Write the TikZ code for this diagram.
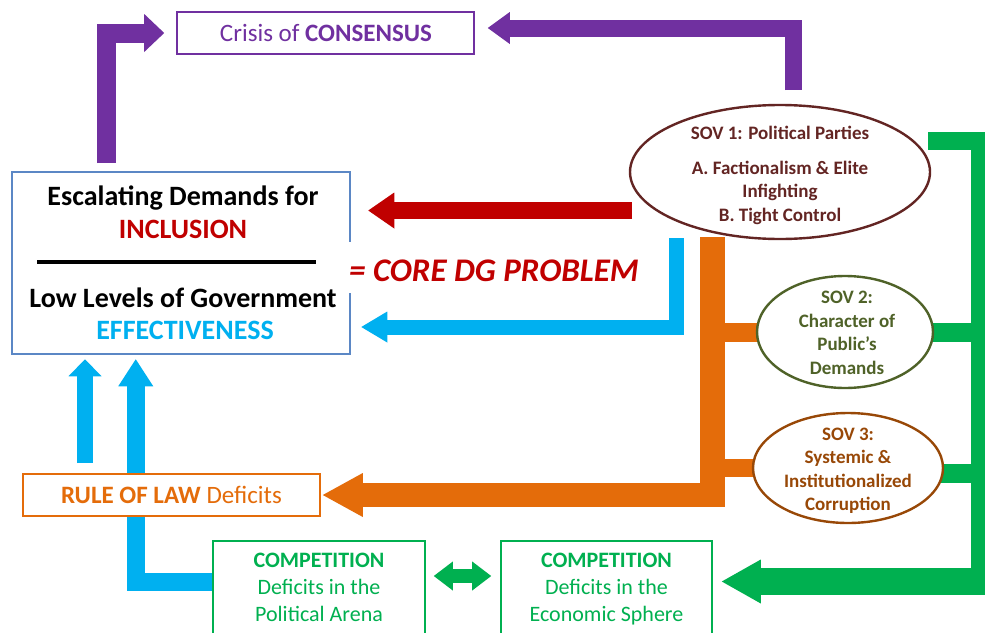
\documentclass[tikz,border=0pt]{standalone}
\usepackage{fontspec}
\setmainfont{Carlito}
\usetikzlibrary{arrows.meta,shapes.geometric,calc,backgrounds}
\definecolor{cpurple}{HTML}{7030A0}
\definecolor{cred}{HTML}{C00000}
\definecolor{cblue}{HTML}{00B0F0}
\definecolor{corange}{HTML}{E46C0A}
\definecolor{cgreen}{HTML}{00B050}
\definecolor{cmaroon}{HTML}{632523}
\definecolor{colive}{HTML}{4F6228}
\definecolor{cbrown}{HTML}{984807}
\definecolor{cboxblue}{HTML}{5B87C5}
\begin{document}
\begin{tikzpicture}[x=1pt,y=-1pt,
  box/.style={draw, line width=1.6pt, fill=white, inner sep=0pt},
  sov/.style={ellipse, draw, line width=2.4pt, fill=white, inner sep=0pt},
  lbl/.style={inner sep=0pt, anchor=base, align=center},
  mlbl/.style={inner sep=0pt, anchor=center, align=center},
  harrow/.style 2 args={arrows={-{Triangle[width=#1,length=#2,line width=0pt]}}},
  f19/.style={font=\fontsize{19}{23.5}\selectfont\bfseries},
  f22/.style={font=\fontsize{22}{27}\selectfont},
  f25/.style={font=\fontsize{25}{30}\selectfont},
  f28/.style={font=\fontsize{28}{33}\selectfont\bfseries},
]
\path[use as bounding box] (0,0) rectangle (985,632);
\clip (0,0) rectangle (985,632);

% ---------- boxes ----------
\node[box, draw=cpurple, minimum width=297pt, minimum height=42pt] (crisis) at (325.5,33) {};
\node[lbl, f25, text=cpurple] (crisistxt) at (326,41) {Crisis of \textbf{CONSENSUS}};

\node[box, draw=cboxblue, line width=2.5pt, minimum width=338pt, minimum height=182pt] (core) at (181,263) {};
\node[lbl, f28] (esc) at (183,205) {Escalating Demands for};
\node[lbl, f28, text=cred] (incl) at (183,238) {INCLUSION};
\draw[line width=4pt] (37,262) -- (316,262);
\node[lbl, f28] (low) at (183,307) {Low Levels of Government};
\node[lbl, f28, text=cblue] (eff) at (185,339) {EFFECTIVENESS};

\node[inner xsep=3pt, inner ysep=0pt, anchor=base west, fill=white, text height=39pt, text depth=12pt,
  font=\fontsize{33}{40}\selectfont\bfseries\itshape, text=cred] (coredg) at (346,281) {= CORE DG PROBLEM};

\node[box, draw=corange, minimum width=297pt, minimum height=42pt] (rol) at (171.5,495) {};
\node[lbl, f25, text=corange] (roltxt) at (171.5,503) {\textbf{RULE OF LAW} Deficits};

\node[box, draw=cgreen, minimum width=212pt, minimum height=104pt] (pol) at (319,593) {};
\node[mlbl, f22, text=cgreen] (poltxt) at (319,587) {\textbf{COMPETITION}\\Deficits in the\\Political Arena};
\node[box, draw=cgreen, minimum width=211pt, minimum height=104pt] (econ) at (606.5,593) {};
\node[mlbl, f22, text=cgreen] (econtxt) at (606.5,589) {\textbf{COMPETITION}\\Deficits in the\\Economic Sphere};

% ---------- ellipses ----------
\node[sov, draw=cmaroon, minimum width=300pt, minimum height=134pt] (sov1) at (780,172) {};
\node[mlbl, f19, text=cmaroon] (sov1txt) at (780,175) {SOV 1: Political Parties\\[11.5pt]A. Factionalism \& Elite\\Infighting\\B. Tight Control};
\node[sov, draw=colive, minimum width=176pt, minimum height=112pt] (sov2) at (845,332) {};
\node[mlbl, f19, text=colive] (sov2txt) at (847,333) {SOV 2:\\Character of\\Public’s\\Demands};
\node[sov, draw=cbrown, minimum width=190pt, minimum height=110pt] (sov3) at (848,468) {};
\node[mlbl, f19, text=cbrown] (sov3txt) at (848,471) {SOV 3:\\Systemic \&\\Institutionalized\\Corruption};

% ---------- connectors ----------
\begin{pgfonlayer}{background}
\fill[white] (0,0) rectangle (985,632);
\coordinate (p1s) at (106,163);
\coordinate (p2s) at (793.5,90);
\coordinate (r1s) at (632,210.5);
\coordinate (b1s) at (676.5,238);
\coordinate (o1s) at (712.5,237);
\coordinate (g1s) at (928,141);
\coordinate (gc) at (980,595);
\coordinate (g2s) at (989,581.5);
\coordinate (ba) at (85,463);
\coordinate (bb) at ($(pol.west)+(0,-11.5)$);
\coordinate (dl) at ($(pol.east)+(0,-17)$);
\coordinate (g3) at ($(sov3.east)+(-4,5)$);

\draw[cpurple, line width=19pt, harrow={38pt}{20pt}] (p1s) |- ([xshift=-12pt]crisis.west);
\draw[cpurple, line width=17pt, harrow={32pt}{22pt}] (p2s) |- ([xshift=13pt,yshift=5pt]crisis.east);
\draw[cred, line width=17pt, harrow={36pt}{26pt}, shorten >=17pt] (r1s) -- (r1s -| core.east);
\draw[cblue, line width=15pt, harrow={31pt}{26pt}, shorten >=10pt] (b1s) |- ($(core.east)+(0,64)$);

\draw[corange, line width=24.5pt, harrow={44pt}{40pt}, shorten >=2pt] (o1s) |- (rol.east);
\draw[corange, line width=19pt] (o1s |- sov2.west) -- ([xshift=4pt]sov2.west);
\draw[corange, line width=18pt] (o1s |- sov3.west) -- ([xshift=4pt]sov3.west);

\draw[cgreen, line width=18pt] (g1s) -| (gc);
\draw[cgreen, line width=27pt, harrow={44pt}{39pt}, shorten >=9pt] (g2s) -- (g2s -| econ.east);
\draw[cgreen, line width=19pt] ([xshift=-4pt]sov2.east) -- (sov2.east -| gc);
\draw[cgreen, line width=19pt] (g3) -- (g3 -| gc);
\draw[cgreen, line width=14pt, shorten <=8pt, shorten >=9pt,
  arrows={{Triangle[width=29pt,length=19pt,line width=0pt]}-{Triangle[width=29pt,length=19pt,line width=0pt]}}]
  (dl) -- (dl -| econ.west);

\draw[cblue, line width=16pt, harrow={33pt}{17pt}, shorten >=4pt] (ba) -- (ba |- core.south);
\draw[cblue, line width=18pt, harrow={35pt}{27pt}] (bb) -| ($(core.south west)+(125,4)$);
\end{pgfonlayer}
\end{tikzpicture}
\end{document}
